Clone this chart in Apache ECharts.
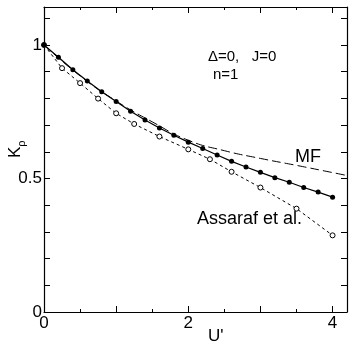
<!DOCTYPE html>
<html>
<head>
<meta charset="utf-8">
<script src="https://cdn.jsdelivr.net/npm/echarts@6/dist/echarts.min.js"></script>
<style>html,body{margin:0;padding:0;background:#fff}#c{width:350px;height:346px}</style>
</head>
<body>
<div id="c"></div>
<script>
// Solid line with filled circles
var solidX = [0, 0.2, 0.4, 0.6, 0.8, 1.0, 1.2, 1.4, 1.6, 1.8, 2.0, 2.2, 2.4, 2.6, 2.8, 3.0, 3.2, 3.4, 3.6, 3.8, 4.0];
var solidY = [1.0, 0.954, 0.907, 0.865, 0.825, 0.788, 0.752, 0.719, 0.689, 0.662, 0.636, 0.612, 0.588, 0.564, 0.543, 0.523, 0.503, 0.486, 0.466, 0.449, 0.430];
// Assaraf et al. (short dashes, open circles)
var assX = [0, 0.25, 0.5, 0.75, 1.0, 1.25, 1.6, 2.0, 2.3, 2.6, 3.0, 3.5, 4.0];
var assY = [1.0, 0.913, 0.857, 0.799, 0.744, 0.704, 0.657, 0.609, 0.572, 0.525, 0.466, 0.387, 0.287];
// MF (long dashes)
var mfX = [0, 0.5, 1.0, 1.5, 2.0, 2.5, 3.0, 3.5, 4.0, 4.2];
var mfY = [1.0, 0.884, 0.79, 0.712, 0.643, 0.604, 0.575, 0.549, 0.522, 0.511];
var xLabels = [0, 2, 4];
var yLabels = [0, 0.5, 1];

function pairs(xs, ys) { return xs.map(function (x, i) { return [x, ys[i]]; }); }

var FONT = 'Liberation Sans, Arial, Helvetica, sans-serif';
var chart = echarts.init(document.getElementById('c'));
var grid = { left: 44, right: 2, top: 7, bottom: 34, containLabel: false };

function xAx(pos, interval, len, showLabel, showLine) {
  return {
    type: 'value', position: pos, min: 0, max: 4.2, interval: interval,
    axisLine: { show: showLine, onZero: false, lineStyle: { color: '#000', width: 1.2 } },
    axisTick: { show: true, inside: true, length: len, lineStyle: { color: '#000', width: 1 } },
    splitLine: { show: false },
    axisLabel: {
      show: showLabel, margin: 3, color: '#000', fontSize: 17, fontFamily: FONT,
      formatter: function (v) { return xLabels.indexOf(Math.round(v * 1000) / 1000) >= 0 ? String(v) : ''; }
    }
  };
}
function yAx(pos, showLabel) {
  return {
    type: 'value', position: pos, min: 0, max: 1.142, interval: 0.1,
    axisLine: { show: true, onZero: false, lineStyle: { color: '#000', width: 1.2 } },
    axisTick: { show: true, inside: true, length: 6, lineStyle: { color: '#000', width: 1 } },
    splitLine: { show: false },
    axisLabel: {
      show: showLabel, margin: 2, color: '#000', fontSize: 17, fontFamily: FONT,
      formatter: function (v) { var r = Math.round(v * 1000) / 1000; return yLabels.indexOf(r) >= 0 ? String(r) : ''; }
    }
  };
}

chart.setOption({
  animation: false,
  grid: grid,
  xAxis: [
    xAx('bottom', 1, 6, true, true),
    xAx('bottom', 0.5, 3, false, false),
    xAx('top', 1, 6, false, true),
    xAx('top', 0.5, 3, false, false)
  ],
  yAxis: [yAx('left', true), yAx('right', false)],
  graphic: [
    { type: 'text', left: 208, top: 49, style: { text: 'Δ=0,   J=0', font: '15px ' + FONT, fill: '#000' } },
    { type: 'text', left: 213, top: 67, style: { text: 'n=1', font: '15px ' + FONT, fill: '#000' } },
    { type: 'text', left: 295, top: 148, style: { text: 'MF', font: '18px ' + FONT, fill: '#000' } },
    { type: 'text', left: 197, top: 210, style: { text: 'Assaraf et al.', font: '18px ' + FONT, fill: '#000' } },
    { type: 'text', left: 208, top: 328, style: { text: "U'", font: '17px ' + FONT, fill: '#000' } },
    { type: 'text', x: 7, y: 158, rotation: Math.PI / 2,
      style: { text: '{a|K}{b|ρ}', fill: '#000',
        rich: { a: { fontSize: 17, fontFamily: FONT, verticalAlign: 'bottom' },
                b: { fontSize: 11, fontFamily: FONT, verticalAlign: 'bottom', padding: [0, 0, -3, 0] } } } }
  ],
  series: [
    { type: 'line', data: pairs(mfX, mfY), smooth: true, symbol: 'none',
      lineStyle: { color: '#000', width: 1, type: [9, 4] } },
    { type: 'line', data: pairs(assX, assY), symbol: 'circle', symbolSize: 5,
      itemStyle: { color: '#fff', borderColor: '#000', borderWidth: 1 },
      lineStyle: { color: '#000', width: 1, type: [3, 3] } },
    { type: 'line', data: pairs(solidX, solidY), symbol: 'circle', symbolSize: 5,
      itemStyle: { color: '#000', borderColor: '#000', borderWidth: 0 },
      lineStyle: { color: '#000', width: 1.2 } }
  ]
});
</script>
</body>
</html>
